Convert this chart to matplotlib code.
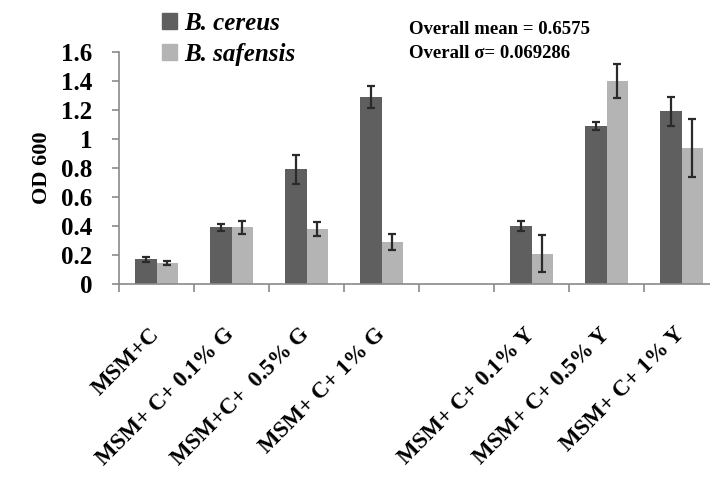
import matplotlib
matplotlib.use("Agg")
import matplotlib.pyplot as plt
from matplotlib.patches import Patch
import numpy as np

categories = ["MSM+C", "MSM+ C+ 0.1% G", "MSM+C+  0.5% G", "MSM+ C+ 1% G", "",
              "MSM+ C+ 0.1% Y", "MSM+ C+ 0.5% Y", "MSM+ C+ 1% Y"]
cereus = [0.17, 0.39, 0.79, 1.29, np.nan, 0.40, 1.09, 1.19]
cereus_err = [0.017, 0.023, 0.10, 0.077, np.nan, 0.034, 0.028, 0.098]
safensis = [0.145, 0.39, 0.38, 0.29, np.nan, 0.21, 1.40, 0.94]
safensis_err = [0.011, 0.043, 0.05, 0.057, np.nan, 0.125, 0.117, 0.20]
yticks = [0, 0.2, 0.4, 0.6, 0.8, 1, 1.2, 1.4, 1.6]
ytick_labels = ["0", "0.2", "0.4", "0.6", "0.8", "1", "1.2", "1.4", "1.6"]

serif = ["Liberation Serif", "DejaVu Serif"]
dark = "#5f5f5f"
light = "#b4b4b4"

fig = plt.figure(figsize=(7.1, 4.8), dpi=100)
ax = fig.add_axes([119/710, 196/480, 600/710, 232/480])

x = np.arange(len(categories))
w = 0.29
ax.bar(x - w/2, cereus, w, color=dark, zorder=2)
ax.bar(x + w/2, safensis, w, color=light, zorder=2)
ax.errorbar(x - w/2, cereus, yerr=cereus_err, fmt="none", ecolor="#2a2a2a",
            elinewidth=1.6, capsize=3, capthick=1.6, zorder=3)
ax.errorbar(x + w/2, safensis, yerr=safensis_err, fmt="none", ecolor="#2a2a2a",
            elinewidth=1.6, capsize=3, capthick=1.6, zorder=3)

ax.set_xlim(-0.5, len(categories) - 0.5)
ax.set_ylim(0, 1.6)

for s in ["top", "right"]:
    ax.spines[s].set_visible(False)
for s in ["left", "bottom"]:
    ax.spines[s].set_color("#8a8a8a")
    ax.spines[s].set_linewidth(1.2)

ax.set_yticks(yticks)
ax.set_yticklabels(ytick_labels, fontfamily=serif, fontweight="bold", fontsize=18)
ax.tick_params(axis="y", length=5, color="#8a8a8a", width=1.2, pad=14)

ax.set_xticks(np.arange(len(categories) + 1) - 0.5)
ax.set_xticklabels([])
ax.tick_params(axis="x", which="major", length=6, color="#8a8a8a", width=1.2)
ax.set_xticks(x, minor=True)
ax.set_xticklabels(categories, minor=True, rotation=45, ha="right", va="center",
                   rotation_mode="anchor", fontfamily=serif, fontweight="bold",
                   fontsize=16.5)
ax.tick_params(axis="x", which="minor", length=0, pad=34)

ax.set_ylabel("OD 600", fontfamily=serif, fontweight="bold", fontsize=16, labelpad=7)

handles = [Patch(color=dark), Patch(color=light)]
leg = fig.legend(handles, ["B. cereus", "B. safensis"], loc="upper left",
                 bbox_to_anchor=(152/710, 1 - 2/480), frameon=False,
                 prop={"family": serif, "style": "italic", "weight": "bold", "size": 18},
                 handlelength=0.6, handleheight=0.6, handletextpad=0.3,
                 labelspacing=0.3, borderaxespad=0)

fig.text(409/710, 1 - 30/480, "Overall mean = 0.6575", fontfamily=serif,
         fontweight="bold", fontsize=13.5, va="center", ha="left")
fig.text(409/710, 1 - 53/480, "Overall σ= 0.069286", fontfamily=serif,
         fontweight="bold", fontsize=13.5, va="center", ha="left")

fig.savefig("out.png", dpi=100)
